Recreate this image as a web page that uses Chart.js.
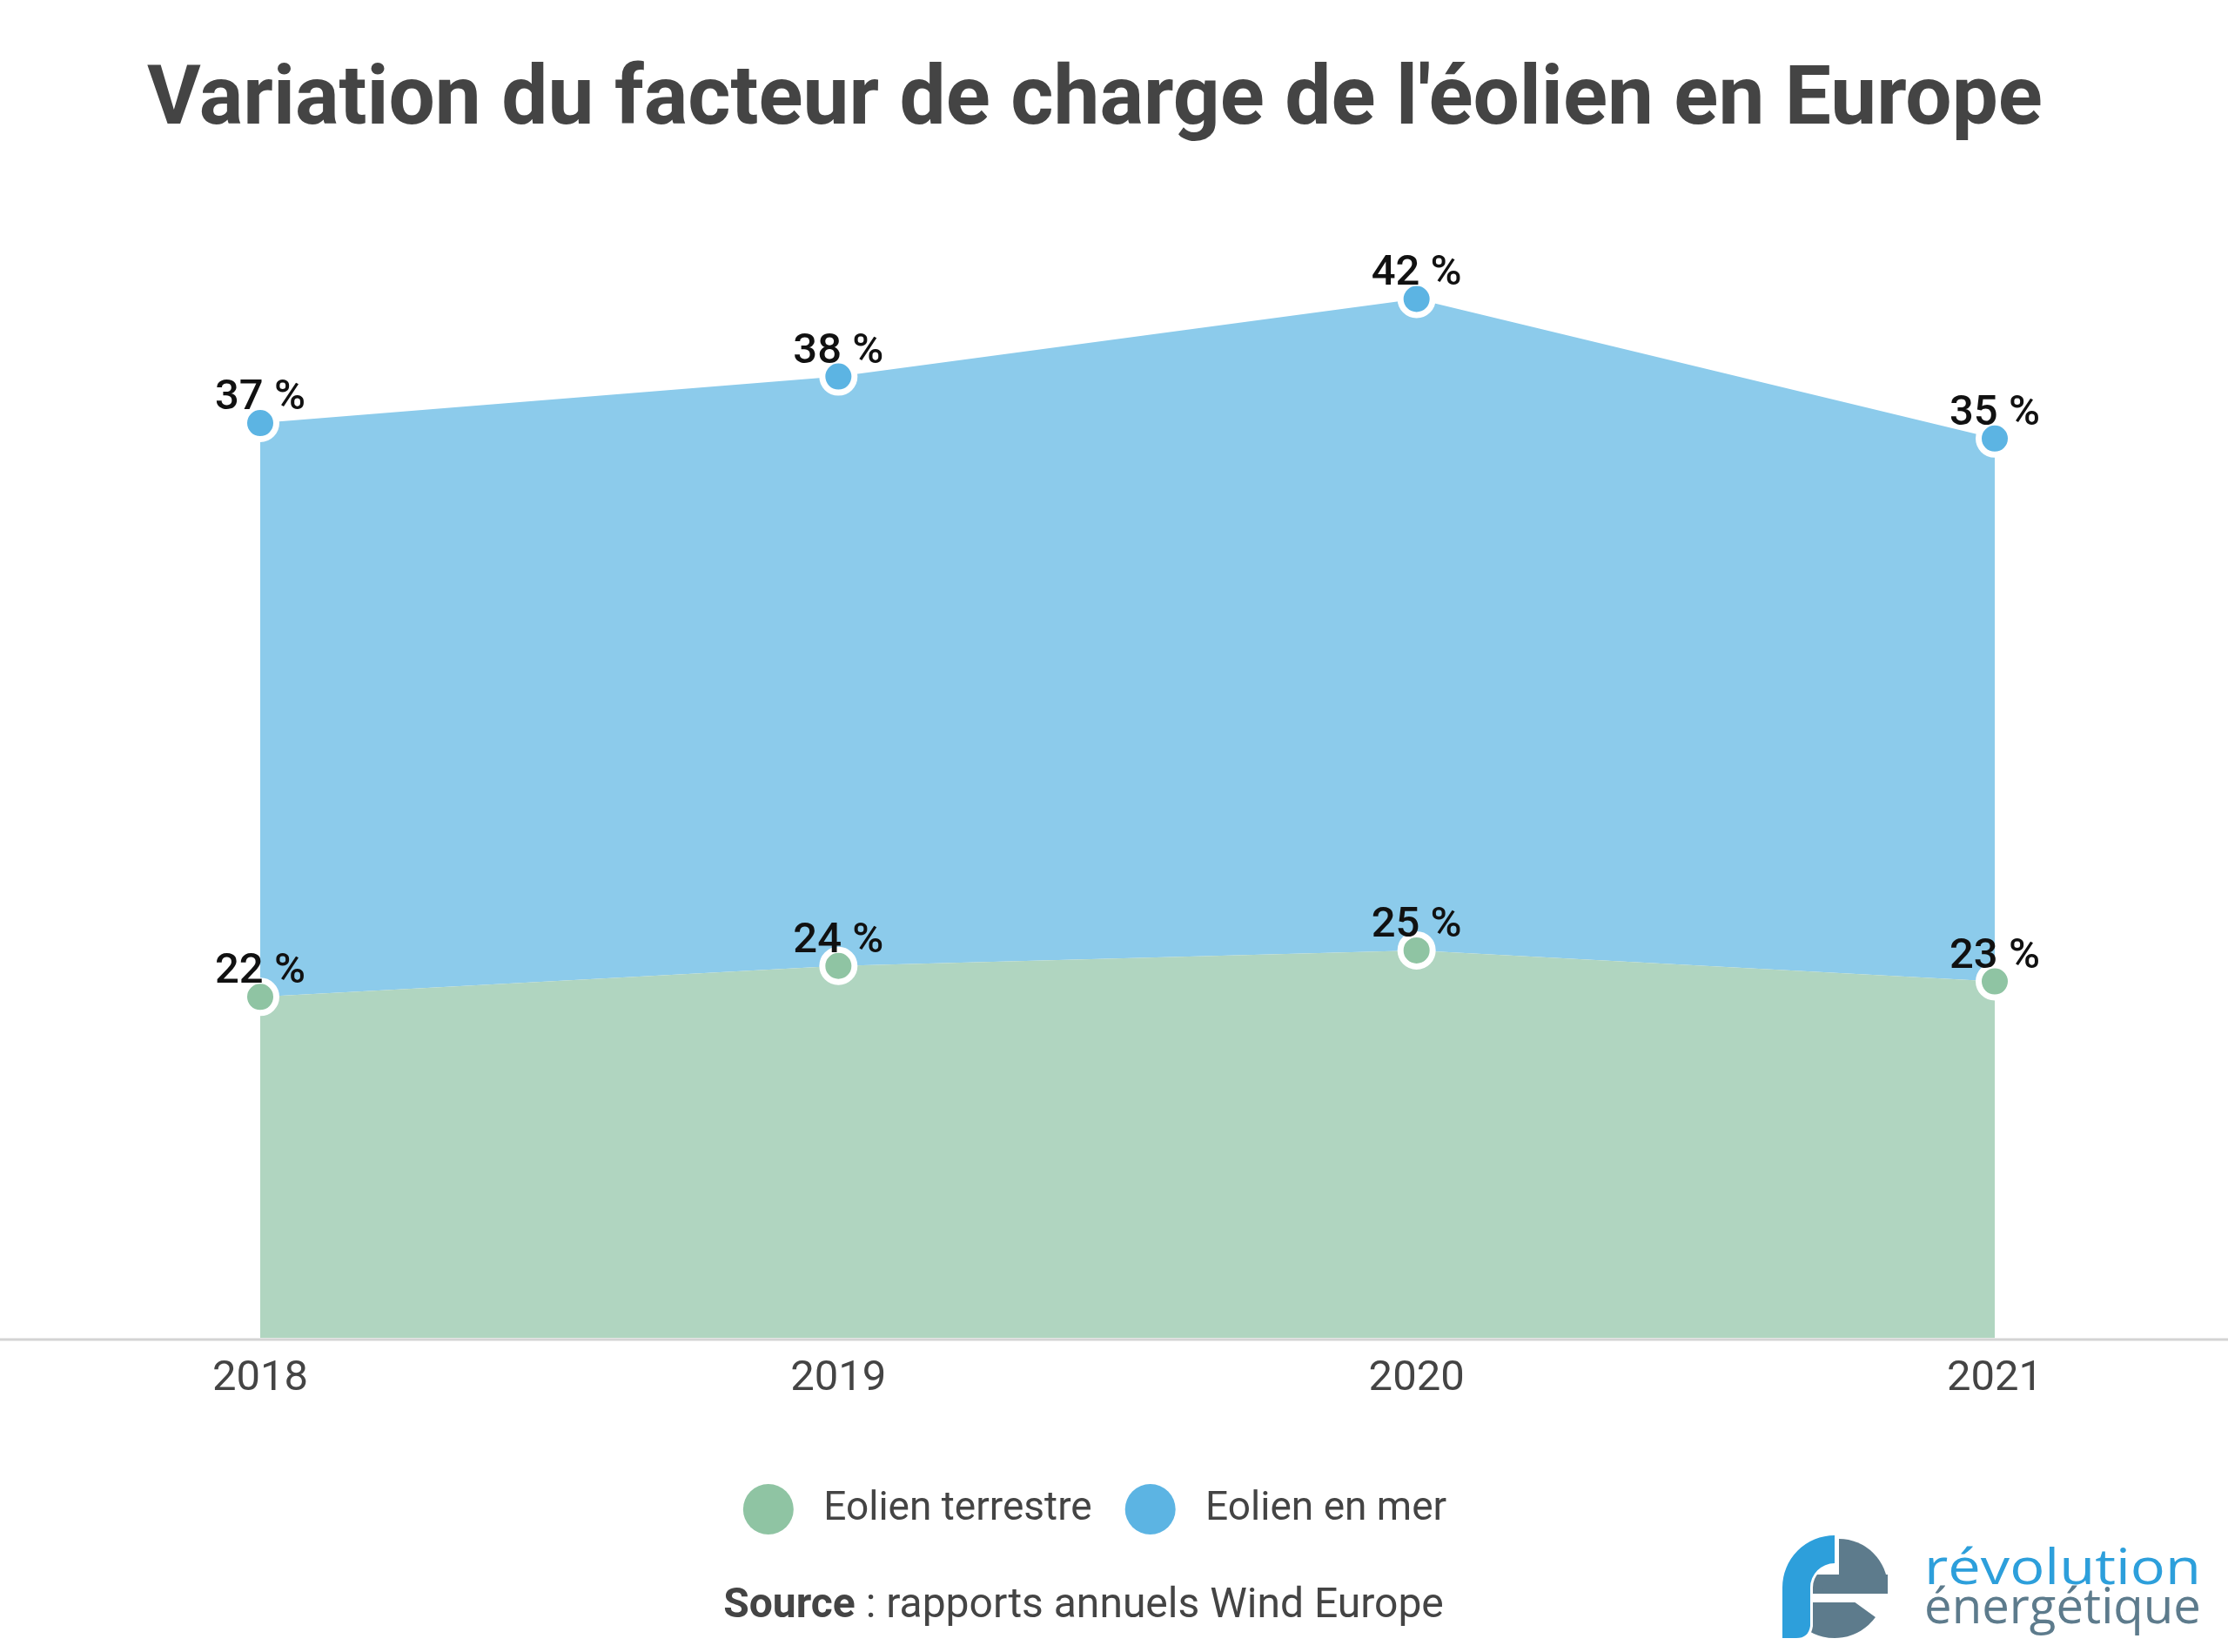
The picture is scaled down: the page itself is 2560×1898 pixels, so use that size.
<!DOCTYPE html>
<html lang="fr">
<head>
<meta charset="utf-8">
<title>Variation du facteur de charge de l'éolien en Europe</title>
<script src="https://cdn.jsdelivr.net/npm/chart.js@4/dist/chart.umd.min.js"></script>
<style>
  html, body { margin: 0; padding: 0; background: #fff; }
  #chart { display: block; width: 2560px; height: 1898px; }
</style>
</head>
<body>
<canvas id="chart" width="2560" height="1898"></canvas>
<script>
// data (load factor, %)
const years = ['2018', '2019', '2020', '2021'];
const onshore = [22, 24, 25, 23];   // Eolien terrestre
const offshore = [37, 38, 42, 35];  // Eolien en mer
const seriesNames = ['Eolien terrestre', 'Eolien en mer'];

const FONT = 'Roboto';
const TEXT = '#444444';

/* grey baseline across the whole page, at value 0 */
const baseline = {
  id: 'baseline',
  afterDatasetsDraw: function (chart) {
    const ctx = chart.ctx;
    const y = chart.scales.y.getPixelForValue(0);
    ctx.save();
    ctx.strokeStyle = '#d4d4d4';
    ctx.lineWidth = 3;
    ctx.beginPath();
    ctx.moveTo(0, y + 1.5);
    ctx.lineTo(chart.width, y + 1.5);
    ctx.stroke();
    ctx.restore();
  }
};

/* "37 %" labels above each point */
const valueLabels = {
  id: 'valueLabels',
  afterDatasetsDraw: function (chart) {
    const ctx = chart.ctx;
    ctx.save();
    ctx.font = '500 49px ' + FONT;
    ctx.fillStyle = '#111111';
    ctx.textAlign = 'center';
    ctx.textBaseline = 'alphabetic';
    chart.data.datasets.forEach(function (ds, i) {
      const meta = chart.getDatasetMeta(i);
      meta.data.forEach(function (pt, j) {
        ctx.fillText(ds.data[j] + ' %', pt.x, pt.y - 16);
      });
    });
    ctx.restore();
  }
};

/* source line and logo at the bottom */
const footer = {
  id: 'footer',
  afterDraw: function (chart) {
    const ctx = chart.ctx;
    ctx.save();

    // source
    const bold = 'Source';
    const rest = ' : rapports annuels Wind Europe';
    ctx.textBaseline = 'alphabetic';
    ctx.fillStyle = TEXT;
    ctx.font = '700 48px ' + FONT;
    const wb = ctx.measureText(bold).width;
    ctx.font = '400 48px ' + FONT;
    const wr = ctx.measureText(rest).width;
    const x = 1245 - (wb + wr) / 2;
    ctx.font = '700 48px ' + FONT;
    ctx.fillText(bold, x, 1858);
    ctx.font = '400 48px ' + FONT;
    ctx.fillText(rest, x + wb, 1858);

    // logo mark
    const cx = 2108, cy = 1824;
    const blue = '#2d9fdb', grey = '#5d7b8c';
    ctx.fillStyle = grey;
    ctx.beginPath();
    ctx.moveTo(2113, cy);
    ctx.arc(2113, cy, 56, -Math.PI / 2, 0);
    ctx.closePath();
    ctx.fill();
    ctx.fillRect(2083, 1809, 86, 22);
    ctx.beginPath();
    ctx.arc(cx, cy, 58, Math.PI * 0.2, Math.PI);
    ctx.arc(cx, cy, 14, Math.PI, Math.PI * 0.2, true);
    ctx.closePath();
    ctx.fill();
    // white gap under the crossbar
    ctx.fillStyle = '#ffffff';
    ctx.fillRect(2080, 1831, 95, 10);

    ctx.beginPath();
    ctx.arc(cx, cy, 60, Math.PI, Math.PI * 1.5);
    ctx.lineTo(cx, cy - 32);
    ctx.arc(cx, cy, 28, Math.PI * 1.5, Math.PI, true);
    ctx.lineTo(cx - 28, 1868);
    ctx.quadraticCurveTo(cx - 30, 1882, cx - 44, 1882);
    ctx.lineTo(cx - 60, 1882);
    ctx.closePath();
    ctx.strokeStyle = '#ffffff';
    ctx.lineWidth = 6;
    ctx.stroke();
    ctx.fillStyle = blue;
    ctx.fill();

    // logo words, stretched to the width of the original
    function word(text, color, base) {
      ctx.font = '400 56px "Open Sans"';
      const w = ctx.measureText(text).width;
      ctx.save();
      ctx.translate(2211, base);
      ctx.scale(318 / w, 1);
      ctx.fillStyle = color;
      ctx.textAlign = 'left';
      ctx.fillText(text, 0, 0);
      ctx.restore();
    }
    word('révolution', blue, 1820);
    word('énergétique', grey, 1865);

    ctx.restore();
  }
};

function makeChart() {
  const ctx = document.getElementById('chart').getContext('2d');

  // eslint-disable-next-line no-undef
  new Chart(ctx, {
    type: 'line',
    data: {
      labels: years,
      datasets: [{
        label: seriesNames[0],
        data: onshore,
        fill: 'origin',
        backgroundColor: '#b0d5c0',
        borderColor: 'rgba(0,0,0,0)',
        pointBackgroundColor: '#8fc4a3',
        pointBorderColor: '#ffffff',
        pointBorderWidth: 7,
        pointRadius: 18.5,
        tension: 0,
      },
      {
        label: seriesNames[1],
        data: offshore,
        fill: '-1',
        backgroundColor: '#8ccbeb',
        borderColor: 'rgba(0,0,0,0)',
        pointBackgroundColor: '#5cb4e3',
        pointBorderColor: '#ffffff',
        pointBorderWidth: 7,
        pointRadius: 18.5,
        tension: 0,
      }]
    },
    options: {
      responsive: false,
      animation: false,
      devicePixelRatio: 1,
      layout: {
        padding: { left: 0, right: 44, top: 0, bottom: 131 }
      },
      scales: {
        x: {
          grid: { display: false, drawTicks: false },
          border: { display: false },
          ticks: {
            color: TEXT,
            font: { family: FONT, size: 49, weight: 400 },
            padding: 17.6,
            maxRotation: 0,
            autoSkip: false,
          },
          afterFit: function (scale) { scale.height += 41.6; }
        },
        y: {
          stacked: true,
          min: 0,
          max: 72,
          grid: { display: false, drawTicks: false },
          border: { display: false },
          ticks: { display: false },
          afterFit: function (scale) { scale.width = 299; }
        },
        y2: {
          position: 'right',
          min: 0,
          max: 1,
          grid: { display: false, drawTicks: false },
          border: { display: false },
          ticks: { display: false },
          afterFit: function (scale) { scale.width = 224; }
        }
      },
      plugins: {
        title: {
          display: true,
          text: 'Variation du facteur de charge de l\'éolien en Europe',
          color: TEXT,
          font: { family: FONT, size: 94.5, weight: 700 },
          padding: { top: 62, bottom: 79 }
        },
        legend: {
          position: 'bottom',
          labels: {
            usePointStyle: true,
            pointStyle: 'circle',
            pointStyleWidth: 58,
            boxHeight: 41,
            padding: 38,
            color: TEXT,
            font: { family: FONT, size: 46, weight: 400 },
            generateLabels: function (chart) {
              // eslint-disable-next-line no-undef
              return Chart.defaults.plugins.legend.labels.generateLabels(chart).map(function (item) {
                item.text = ' ' + item.text;
                item.lineWidth = 0;
                item.strokeStyle = 'rgba(0,0,0,0)';
                return item;
              });
            }
          }
        },
        tooltip: { enabled: false }
      }
    },
    plugins: [baseline, valueLabels, footer]
  });
}

if (document.fonts && document.fonts.load) {
  Promise.all([
    document.fonts.load('400 49px Roboto'),
    document.fonts.load('500 49px Roboto'),
    document.fonts.load('700 96px Roboto'),
    document.fonts.load('400 56px "Open Sans"')
  ]).then(makeChart, makeChart);
} else {
  makeChart();
}
</script>
</body>
</html>
